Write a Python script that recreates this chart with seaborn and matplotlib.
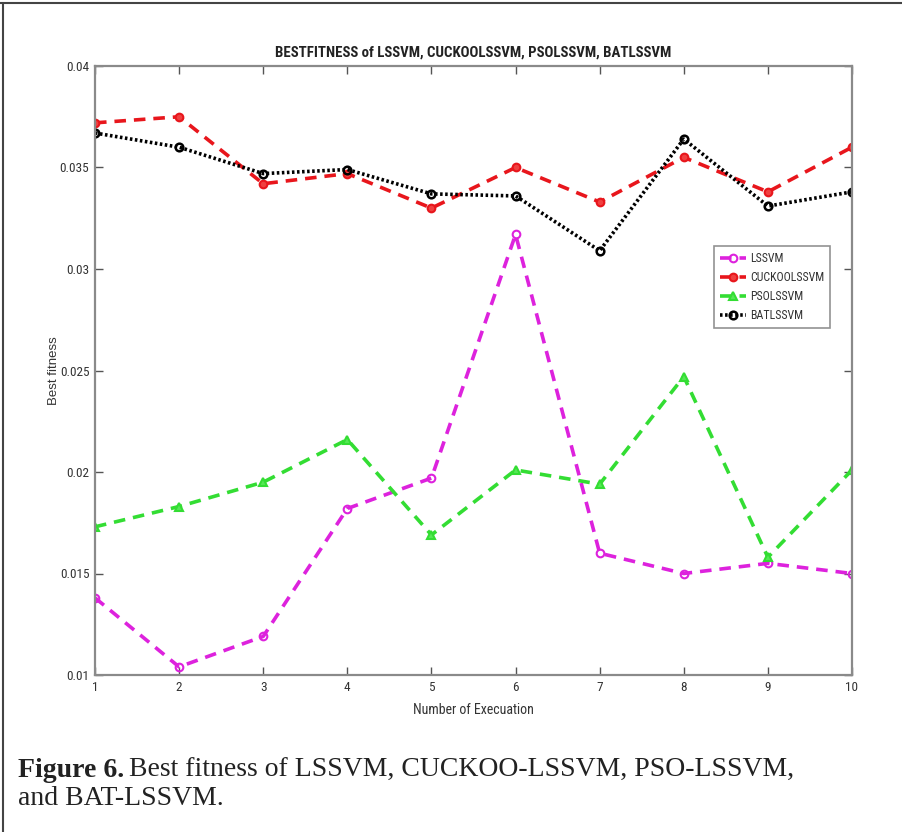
import matplotlib
matplotlib.use("Agg")
import matplotlib.pyplot as plt
from matplotlib import font_manager
import seaborn as sns
import pandas as pd

runs = [1, 2, 3, 4, 5, 6, 7, 8, 9, 10]
lssvm = [0.0138, 0.0104, 0.0119, 0.0182, 0.0197, 0.0317, 0.0160, 0.0150, 0.0155, 0.0150]
cuckoo_lssvm = [0.0372, 0.0375, 0.0342, 0.0347, 0.0330, 0.0350, 0.0333, 0.0355, 0.0338, 0.0360]
pso_lssvm = [0.0173, 0.0183, 0.0195, 0.0216, 0.0169, 0.0201, 0.0194, 0.0247, 0.0158, 0.0201]
bat_lssvm = [0.0367, 0.0360, 0.0347, 0.0349, 0.0337, 0.0336, 0.0309, 0.0364, 0.0331, 0.0338]
series_names = ["LSSVM", "CUCKOOLSSVM", "PSOLSSVM", "BATLSSVM"]
y_ticks = [0.01, 0.015, 0.02, 0.025, 0.03, 0.035, 0.04]
y_tick_labels = ["0.01", "0.015", "0.02", "0.025", "0.03", "0.035", "0.04"]

sns.set_style("white")

# pick a narrow sans face for the axis text if one is available
available = {(f.name, f.stretch) for f in font_manager.fontManager.ttflist}
names = {n for n, _ in available}
axis_family, axis_stretch, size_k = ["Liberation Sans", "DejaVu Sans"], "normal", 0.8
for cand in ["Roboto Condensed", "Liberation Sans Narrow", "Arial Narrow", "Nimbus Sans Narrow"]:
    if cand in names:
        axis_family, axis_stretch, size_k = [cand, "DejaVu Sans"], "normal", 1.0
        break

plt.rcParams["font.family"] = axis_family
plt.rcParams["font.stretch"] = axis_stretch

fig = plt.figure(figsize=(9.03, 8.32), dpi=100)
ax = fig.add_axes([95 / 903, 1 - 675 / 832, 757 / 903, 609 / 832])

dash = (0, (3.2, 2.2))
styles = {
    "LSSVM": dict(color="#dd22dd", linestyle=dash, marker="o", mfc="none", mec="#dd22dd", ms=5.5, mew=1.5),
    "CUCKOOLSSVM": dict(color="#e8161c", linestyle=dash, marker="o", mfc="#f04040", mec="#e8161c", ms=5.5, mew=1.5),
    "PSOLSSVM": dict(color="#33dd33", linestyle=dash, marker="^", mfc="#55e855", mec="#33dd33", ms=6, mew=1.5),
    "BATLSSVM": dict(color="black", linestyle=(0, (0.7, 0.7)), marker="o", mfc="none", mec="black", ms=5.5, mew=1.8),
}
values = [lssvm, cuckoo_lssvm, pso_lssvm, bat_lssvm]

for name, vals in zip(series_names, values):
    df = pd.DataFrame({"run": runs, "fitness": vals})
    sns.lineplot(data=df, x="run", y="fitness", ax=ax, lw=2.6, label=name, **styles[name])

ax.set_xlim(1, 10)
ax.set_ylim(0.01, 0.04)
ax.set_xticks(runs)
ax.set_xticklabels([str(r) for r in runs])
ax.set_yticks(y_ticks)
ax.set_yticklabels(y_tick_labels)
ax.tick_params(direction="in", length=6, width=1.0, color="#555555", labelsize=9.5 * size_k,
               labelcolor="#333333", top=True, right=True, bottom=True, left=True, pad=4)
for sp in ax.spines.values():
    sp.set_visible(True)
    sp.set_color("#8a8a8a")
    sp.set_linewidth(1.6)

ax.set_title("BESTFITNESS of LSSVM, CUCKOOLSSVM, PSOLSSVM, BATLSSVM",
             fontsize=10.7 * size_k, fontweight="bold", color="#222222", pad=7)
ax.set_xlabel("Number of Execuation", fontsize=10 * size_k, color="#333333", labelpad=7)
ax.set_ylabel("Best fitness", fontsize=9.5, color="#333333",
              family=["Liberation Sans", "DejaVu Sans"], stretch="normal")
ax.yaxis.set_label_coords((60 - 95) / 757, 0.5)

leg = ax.legend(loc="upper left", bbox_to_anchor=((714 - 95) / 757, (675 - 246) / 609),
                borderaxespad=0, fontsize=8.6 * size_k, frameon=True, fancybox=False,
                handlelength=2.2, handletextpad=0.3, labelspacing=0.5, borderpad=0.5)
leg.get_frame().set_edgecolor("#777777")
leg.get_frame().set_linewidth(1.2)
for t in leg.get_texts():
    t.set_color("#333333")

# caption under the chart
serif = ["Liberation Serif", "DejaVu Serif"]
cap_size = 20
cap_bold = fig.text(18 / 903, 1 - 777 / 832, "Figure 6.", family=serif, fontsize=cap_size,
                    fontweight="bold", color="#222222", va="baseline", stretch="normal")
renderer = fig.canvas.get_renderer()
bold_end = cap_bold.get_window_extent(renderer).x1
fig.text((bold_end + 5) / 903, 1 - 777 / 832, "Best fitness of LSSVM, CUCKOO-LSSVM, PSO-LSSVM,",
         family=serif, fontsize=cap_size, color="#222222", va="baseline", stretch="normal")
fig.text(18 / 903, 1 - 805 / 832, "and BAT-LSSVM.", family=serif, fontsize=cap_size,
         color="#222222", va="baseline", stretch="normal")

# page frame lines along the top and left edges
fig.add_artist(plt.Line2D([0, 1], [1 - 3 / 832, 1 - 3 / 832], color="#444444", lw=1.5,
                          transform=fig.transFigure))
fig.add_artist(plt.Line2D([3 / 903, 3 / 903], [0, 1 - 3 / 832], color="#444444", lw=1.5,
                          transform=fig.transFigure))

fig.savefig("out.png", dpi=100)
